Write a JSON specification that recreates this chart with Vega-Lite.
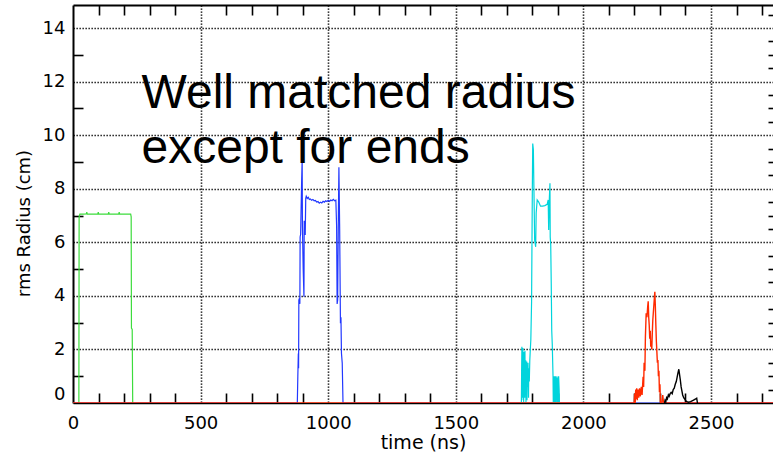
{
  "$schema": "https://vega.github.io/schema/vega-lite/v6.json",
  "autosize": {"type": "none"},
  "padding": {"left": 73, "top": 5, "right": 0, "bottom": 51},
  "width": 700,
  "height": 398,
  "background": "white",
  "config": {"view": {"stroke": null}, "font": "DejaVu Sans"},
  "datasets": {
    "curves": [
      {"s": "green", "t": 23, "v": 0}, {"s": "green", "t": 24, "v": 6.95}, {"s": "green", "t": 27, "v": 7.05}, {"s": "green", "t": 40, "v": 7.05}, {"s": "green", "t": 52, "v": 7.06}, {"s": "green", "t": 54, "v": 7.13}, {"s": "green", "t": 56, "v": 7.05}, {"s": "green", "t": 97, "v": 7.05}, {"s": "green", "t": 99, "v": 7.13}, {"s": "green", "t": 101, "v": 7.05}, {"s": "green", "t": 138, "v": 7.05}, {"s": "green", "t": 140, "v": 7.13}, {"s": "green", "t": 142, "v": 7.05}, {"s": "green", "t": 179, "v": 7.05}, {"s": "green", "t": 181, "v": 7.13}, {"s": "green", "t": 183, "v": 7.05}, {"s": "green", "t": 226, "v": 7.05}, {"s": "green", "t": 228, "v": 6.95}, {"s": "green", "t": 229, "v": 2.8}, {"s": "green", "t": 232, "v": 2.75}, {"s": "green", "t": 234, "v": 0},

      {"s": "blue", "t": 0, "v": 0}, {"s": "blue", "t": 879, "v": 0}, {"s": "blue", "t": 881, "v": 1.0}, {"s": "blue", "t": 883, "v": 1.85}, {"s": "blue", "t": 884, "v": 1.3}, {"s": "blue", "t": 885, "v": 3.84}, {"s": "blue", "t": 887, "v": 3.9}, {"s": "blue", "t": 889, "v": 3.7}, {"s": "blue", "t": 890, "v": 6.2}, {"s": "blue", "t": 892, "v": 6.3}, {"s": "blue", "t": 896, "v": 8.3}, {"s": "blue", "t": 898, "v": 9.1}, {"s": "blue", "t": 899, "v": 6.6}, {"s": "blue", "t": 902, "v": 5.0}, {"s": "blue", "t": 905, "v": 3.97}, {"s": "blue", "t": 906, "v": 6.8}, {"s": "blue", "t": 908, "v": 6.5}, {"s": "blue", "t": 910, "v": 6.27}, {"s": "blue", "t": 912, "v": 7.64}, {"s": "blue", "t": 914, "v": 7.72}, {"s": "blue", "t": 918, "v": 7.64}, {"s": "blue", "t": 922, "v": 7.68}, {"s": "blue", "t": 926, "v": 7.6}, {"s": "blue", "t": 930, "v": 7.62}, {"s": "blue", "t": 935, "v": 7.57}, {"s": "blue", "t": 940, "v": 7.6}, {"s": "blue", "t": 945, "v": 7.55}, {"s": "blue", "t": 950, "v": 7.56}, {"s": "blue", "t": 955, "v": 7.5}, {"s": "blue", "t": 960, "v": 7.52}, {"s": "blue", "t": 965, "v": 7.46}, {"s": "blue", "t": 970, "v": 7.5}, {"s": "blue", "t": 975, "v": 7.47}, {"s": "blue", "t": 980, "v": 7.53}, {"s": "blue", "t": 985, "v": 7.5}, {"s": "blue", "t": 990, "v": 7.55}, {"s": "blue", "t": 995, "v": 7.52}, {"s": "blue", "t": 1000, "v": 7.57}, {"s": "blue", "t": 1005, "v": 7.53}, {"s": "blue", "t": 1010, "v": 7.58}, {"s": "blue", "t": 1015, "v": 7.55}, {"s": "blue", "t": 1020, "v": 7.6}, {"s": "blue", "t": 1025, "v": 7.55}, {"s": "blue", "t": 1030, "v": 7.57}, {"s": "blue", "t": 1033, "v": 6.6}, {"s": "blue", "t": 1035, "v": 3.7}, {"s": "blue", "t": 1037, "v": 3.84}, {"s": "blue", "t": 1040, "v": 7.08}, {"s": "blue", "t": 1042, "v": 8.8}, {"s": "blue", "t": 1045, "v": 6.45}, {"s": "blue", "t": 1048, "v": 2.98}, {"s": "blue", "t": 1050, "v": 3.2}, {"s": "blue", "t": 1052, "v": 1.86}, {"s": "blue", "t": 1055, "v": 1.49}, {"s": "blue", "t": 1058, "v": 0}, {"s": "blue", "t": 2762, "v": 0},

      {"s": "cyan", "t": 1757, "v": 0}, {"s": "cyan", "t": 1758, "v": 1.2}, {"s": "cyan", "t": 1759, "v": 2.1}, {"s": "cyan", "t": 1760, "v": 0.2}, {"s": "cyan", "t": 1761, "v": 2.0}, {"s": "cyan", "t": 1762, "v": 0.5}, {"s": "cyan", "t": 1763, "v": 2.05}, {"s": "cyan", "t": 1764, "v": 0.1}, {"s": "cyan", "t": 1765, "v": 1.5}, {"s": "cyan", "t": 1766, "v": 0}, {"s": "cyan", "t": 1767, "v": 1.9}, {"s": "cyan", "t": 1768, "v": 0.6}, {"s": "cyan", "t": 1769, "v": 1.9}, {"s": "cyan", "t": 1770, "v": 0.2}, {"s": "cyan", "t": 1771, "v": 1.95}, {"s": "cyan", "t": 1772, "v": 0.4}, {"s": "cyan", "t": 1774, "v": 1.6}, {"s": "cyan", "t": 1775, "v": 0}, {"s": "cyan", "t": 1776, "v": 1.5}, {"s": "cyan", "t": 1777, "v": 0.3}, {"s": "cyan", "t": 1778, "v": 1.55}, {"s": "cyan", "t": 1779, "v": 0.1}, {"s": "cyan", "t": 1780, "v": 1.4}, {"s": "cyan", "t": 1782, "v": 0.6}, {"s": "cyan", "t": 1783, "v": 1.5}, {"s": "cyan", "t": 1785, "v": 0.2}, {"s": "cyan", "t": 1786, "v": 1.3}, {"s": "cyan", "t": 1788, "v": 0.8}, {"s": "cyan", "t": 1790, "v": 1.6}, {"s": "cyan", "t": 1792, "v": 2.0}, {"s": "cyan", "t": 1794, "v": 2.35}, {"s": "cyan", "t": 1797, "v": 3.78}, {"s": "cyan", "t": 1800, "v": 8.07}, {"s": "cyan", "t": 1801.5, "v": 9.69}, {"s": "cyan", "t": 1804, "v": 9.45}, {"s": "cyan", "t": 1806, "v": 8.1}, {"s": "cyan", "t": 1809, "v": 6.08}, {"s": "cyan", "t": 1813, "v": 5.83}, {"s": "cyan", "t": 1815, "v": 7.1}, {"s": "cyan", "t": 1819, "v": 7.58}, {"s": "cyan", "t": 1825, "v": 7.5}, {"s": "cyan", "t": 1832, "v": 7.35}, {"s": "cyan", "t": 1840, "v": 7.35}, {"s": "cyan", "t": 1849, "v": 7.37}, {"s": "cyan", "t": 1858, "v": 7.42}, {"s": "cyan", "t": 1862, "v": 7.58}, {"s": "cyan", "t": 1864, "v": 6.46}, {"s": "cyan", "t": 1866, "v": 7.5}, {"s": "cyan", "t": 1869, "v": 8.2}, {"s": "cyan", "t": 1870, "v": 6.2}, {"s": "cyan", "t": 1872, "v": 5.9}, {"s": "cyan", "t": 1874, "v": 4.47}, {"s": "cyan", "t": 1876, "v": 2.7}, {"s": "cyan", "t": 1878, "v": 2.2}, {"s": "cyan", "t": 1881, "v": 1.0}, {"s": "cyan", "t": 1882, "v": 0}, {"s": "cyan", "t": 1883, "v": 0.9}, {"s": "cyan", "t": 1884, "v": 0}, {"s": "cyan", "t": 1885, "v": 1.0}, {"s": "cyan", "t": 1886, "v": 0.1}, {"s": "cyan", "t": 1887, "v": 0.95}, {"s": "cyan", "t": 1888, "v": 0}, {"s": "cyan", "t": 1889, "v": 1.0}, {"s": "cyan", "t": 1890, "v": 0.2}, {"s": "cyan", "t": 1891, "v": 0.9}, {"s": "cyan", "t": 1892, "v": 0}, {"s": "cyan", "t": 1893, "v": 1.0}, {"s": "cyan", "t": 1895, "v": 0.1}, {"s": "cyan", "t": 1896, "v": 0.95}, {"s": "cyan", "t": 1897, "v": 0}, {"s": "cyan", "t": 1898, "v": 0.9}, {"s": "cyan", "t": 1900, "v": 0.2}, {"s": "cyan", "t": 1901, "v": 1.0}, {"s": "cyan", "t": 1902, "v": 0}, {"s": "cyan", "t": 1903, "v": 1.0}, {"s": "cyan", "t": 1905, "v": 0.5}, {"s": "cyan", "t": 1906, "v": 0},

      {"s": "red", "t": 0, "v": 0}, {"s": "red", "t": 2199, "v": 0}, {"s": "red", "t": 2201, "v": 0.35}, {"s": "red", "t": 2203, "v": 0}, {"s": "red", "t": 2205, "v": 0.5}, {"s": "red", "t": 2207, "v": 0.15}, {"s": "red", "t": 2209, "v": 0.55}, {"s": "red", "t": 2211, "v": 0.1}, {"s": "red", "t": 2214, "v": 0.5}, {"s": "red", "t": 2217, "v": 0.2}, {"s": "red", "t": 2220, "v": 0.55}, {"s": "red", "t": 2223, "v": 0.25}, {"s": "red", "t": 2227, "v": 0.6}, {"s": "red", "t": 2230, "v": 0.3}, {"s": "red", "t": 2234, "v": 0.98}, {"s": "red", "t": 2236, "v": 0.6}, {"s": "red", "t": 2238, "v": 1.5}, {"s": "red", "t": 2241, "v": 1.2}, {"s": "red", "t": 2243, "v": 2.47}, {"s": "red", "t": 2246, "v": 3.35}, {"s": "red", "t": 2249, "v": 3.2}, {"s": "red", "t": 2252, "v": 3.6}, {"s": "red", "t": 2254, "v": 3.8}, {"s": "red", "t": 2256, "v": 3.2}, {"s": "red", "t": 2258, "v": 2.9}, {"s": "red", "t": 2260, "v": 2.4}, {"s": "red", "t": 2262, "v": 2.7}, {"s": "red", "t": 2264, "v": 2.1}, {"s": "red", "t": 2266, "v": 2.3}, {"s": "red", "t": 2268, "v": 2.0}, {"s": "red", "t": 2270, "v": 2.6}, {"s": "red", "t": 2272, "v": 3.1}, {"s": "red", "t": 2275, "v": 3.5}, {"s": "red", "t": 2278, "v": 3.9}, {"s": "red", "t": 2280, "v": 4.15}, {"s": "red", "t": 2282, "v": 3.6}, {"s": "red", "t": 2284, "v": 2.9}, {"s": "red", "t": 2286, "v": 2.3}, {"s": "red", "t": 2288, "v": 1.9}, {"s": "red", "t": 2290, "v": 1.5}, {"s": "red", "t": 2292, "v": 1.6}, {"s": "red", "t": 2294, "v": 1.0}, {"s": "red", "t": 2296, "v": 1.2}, {"s": "red", "t": 2298, "v": 0.4}, {"s": "red", "t": 2300, "v": 0.7}, {"s": "red", "t": 2302, "v": 0}, {"s": "red", "t": 2307, "v": 0}, {"s": "red", "t": 2311, "v": 0.3}, {"s": "red", "t": 2314, "v": 0}, {"s": "red", "t": 2762, "v": 0},

      {"s": "black", "t": 2318, "v": 0}, {"s": "black", "t": 2320, "v": 0.1}, {"s": "black", "t": 2323, "v": 0.05}, {"s": "black", "t": 2326, "v": 0.2}, {"s": "black", "t": 2329, "v": 0.15}, {"s": "black", "t": 2333, "v": 0.3}, {"s": "black", "t": 2336, "v": 0.25}, {"s": "black", "t": 2340, "v": 0.35}, {"s": "black", "t": 2344, "v": 0.4}, {"s": "black", "t": 2348, "v": 0.35}, {"s": "black", "t": 2352, "v": 0.5}, {"s": "black", "t": 2356, "v": 0.55}, {"s": "black", "t": 2360, "v": 0.7}, {"s": "black", "t": 2364, "v": 0.8}, {"s": "black", "t": 2367, "v": 0.95}, {"s": "black", "t": 2370, "v": 1.1}, {"s": "black", "t": 2374, "v": 1.26}, {"s": "black", "t": 2377, "v": 1.05}, {"s": "black", "t": 2380, "v": 0.85}, {"s": "black", "t": 2383, "v": 0.6}, {"s": "black", "t": 2386, "v": 0.45}, {"s": "black", "t": 2389, "v": 0.3}, {"s": "black", "t": 2393, "v": 0.2}, {"s": "black", "t": 2397, "v": 0.15}, {"s": "black", "t": 2401, "v": 0.08}, {"s": "black", "t": 2406, "v": 0.05}, {"s": "black", "t": 2412, "v": 0.03}, {"s": "black", "t": 2420, "v": 0.05}, {"s": "black", "t": 2430, "v": 0.1}, {"s": "black", "t": 2440, "v": 0.15}, {"s": "black", "t": 2444, "v": 0.18}, {"s": "black", "t": 2447, "v": 0}
    ],
    "notes": [
      {"t": 268.5, "v": 11.0, "label": "Well matched radius\nexcept for ends"}
    ]
  },
  "resolve": {"axis": {"x": "independent", "y": "independent"}},
  "layer": [
    {
      "data": {"name": "curves"},
      "transform": [{"filter": "datum.s === 'green'"}],
      "mark": {"type": "line", "color": "#3ddc3d", "strokeWidth": 1.2, "clip": true},
      "encoding": {
        "x": {"field": "t", "type": "quantitative", "scale": {"domain": [0, 2743], "nice": false, "zero": false},
          "axis": {
            "orient": "bottom", "title": "time (ns)",
            "values": [0,100,200,300,400,500,600,700,800,900,1000,1100,1200,1300,1400,1500,1600,1700,1800,1900,2000,2100,2200,2300,2400,2500,2600,2700],
            "labelExpr": "datum.value % 500 === 0 ? datum.label : ''",
            "format": "d",
            "labelFlush": false, "labelOverlap": false,
            "labelFont": "DejaVu Sans", "labelFontSize": 18, "labelColor": "black", "labelPadding": 21,
            "titleFont": "DejaVu Sans", "titleFontSize": 19, "titleFontWeight": "normal", "titleColor": "black", "titlePadding": 1,
            "domain": true, "domainColor": "black", "domainWidth": 1.5,
            "ticks": true, "tickSize": -10, "tickColor": "black", "tickWidth": 1.6,
            "tickOpacity": {"condition": {"test": "datum.value % 500 === 0", "value": 0}, "value": 1},
            "grid": true, "gridColor": "black", "gridWidth": 1.6, "gridDash": [1.3, 1.7],
            "gridOpacity": {"condition": {"test": "datum.value % 500 === 0 && datum.value > 0", "value": 1}, "value": 0}
          }},
        "y": {"field": "v", "type": "quantitative", "scale": {"domain": [0, 14.86], "nice": false, "zero": false},
          "axis": {
            "orient": "left", "title": "rms Radius (cm)",
            "values": [0,0.5,1,1.5,2,2.5,3,3.5,4,4.5,5,5.5,6,6.5,7,7.5,8,8.5,9,9.5,10,10.5,11,11.5,12,12.5,13,13.5,14,14.5],
            "labelExpr": "datum.value % 2 === 0 ? datum.label : ''",
            "format": "d",
            "labelFlush": true, "labelOverlap": false,
            "labelFont": "DejaVu Sans", "labelFontSize": 18, "labelColor": "black", "labelPadding": 18,
            "titleFont": "DejaVu Sans", "titleFontSize": 18, "titleFontWeight": "normal", "titleColor": "black", "titlePadding": 9, "titleY": 218,
            "domain": true, "domainColor": "black", "domainWidth": 2,
            "ticks": true, "tickSize": -10, "tickColor": "black", "tickWidth": 1.6,
            "tickOpacity": {"condition": {"test": "datum.value % 2 === 0", "value": 0}, "value": 1},
            "grid": true, "gridColor": "black", "gridWidth": 1.6, "gridDash": [1.3, 1.7],
            "gridOpacity": {"condition": {"test": "datum.value % 2 === 0 && datum.value > 0", "value": 1}, "value": 0}
          }}
      }
    },
    {
      "data": {"name": "curves"},
      "transform": [{"filter": "datum.s === 'blue'"}],
      "mark": {"type": "line", "color": "#2238ff", "strokeWidth": 1.2, "clip": true},
      "encoding": {
        "x": {"field": "t", "type": "quantitative",
          "axis": {
            "orient": "top", "title": null, "labels": false, "grid": false,
            "values": [0,100,200,300,400,500,600,700,800,900,1000,1100,1200,1300,1400,1500,1600,1700,1800,1900,2000,2100,2200,2300,2400,2500,2600,2700],
            "domain": true, "domainColor": "black", "domainWidth": 2,
            "ticks": true, "tickSize": -10, "tickColor": "black", "tickWidth": 1.6,
            "tickOpacity": {"condition": {"test": "datum.value % 500 === 0", "value": 0}, "value": 1}
          }},
        "y": {"field": "v", "type": "quantitative",
          "axis": {
            "orient": "right", "title": null, "labels": false, "grid": false,
            "values": [0,0.5,1,1.5,2,2.5,3,3.5,4,4.5,5,5.5,6,6.5,7,7.5,8,8.5,9,9.5,10,10.5,11,11.5,12,12.5,13,13.5,14,14.5],
            "domain": false,
            "ticks": true, "tickSize": -5, "tickColor": "black", "tickWidth": 1.6,
            "tickOpacity": {"condition": {"test": "datum.value % 2 === 0", "value": 0}, "value": 1}
          }}
      }
    },
    {
      "data": {"name": "curves"},
      "transform": [{"filter": "datum.s === 'cyan'"}],
      "mark": {"type": "line", "color": "#00d4dc", "strokeWidth": 1.2, "clip": true},
      "encoding": {
        "x": {"field": "t", "type": "quantitative", "axis": null},
        "y": {"field": "v", "type": "quantitative", "axis": null}
      }
    },
    {
      "data": {"name": "curves"},
      "transform": [{"filter": "datum.s === 'red'"}],
      "mark": {"type": "line", "color": "#ff2a00", "strokeWidth": 1.4, "clip": true},
      "encoding": {
        "x": {"field": "t", "type": "quantitative", "axis": null},
        "y": {"field": "v", "type": "quantitative", "axis": null}
      }
    },
    {
      "data": {"name": "curves"},
      "transform": [{"filter": "datum.s === 'black'"}],
      "mark": {"type": "line", "color": "black", "strokeWidth": 1.4, "clip": true},
      "encoding": {
        "x": {"field": "t", "type": "quantitative", "axis": null},
        "y": {"field": "v", "type": "quantitative", "axis": null}
      }
    },
    {
      "data": {"name": "notes"},
      "mark": {"type": "text", "align": "left", "baseline": "alphabetic", "font": "Liberation Sans", "fontSize": 48, "lineHeight": 55, "lineBreak": "\n", "color": "black"},
      "encoding": {
        "x": {"field": "t", "type": "quantitative", "axis": null},
        "y": {"field": "v", "type": "quantitative", "axis": null},
        "text": {"field": "label"}
      }
    }
  ]
}
